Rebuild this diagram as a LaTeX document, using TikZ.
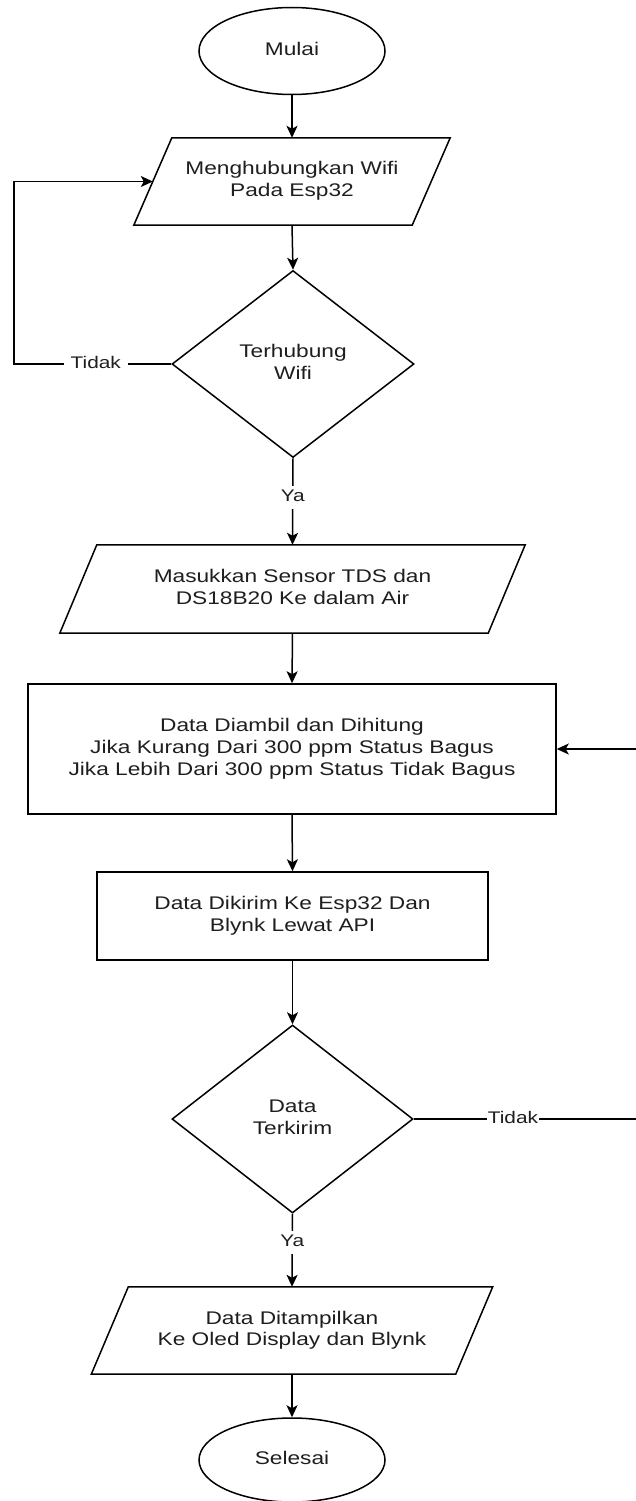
\documentclass[tikz,border=0pt]{standalone}
\usepackage{fontspec}
\usepackage{graphicx}
\setmainfont{Liberation Sans}
\usetikzlibrary{arrows.meta,shapes.geometric}
\definecolor{txtc}{HTML}{1E1E1E}
\newcommand{\hs}[1]{\scalebox{1.24}[1]{\begin{tabular}{@{}c@{}}#1\end{tabular}}}
\tikzset{
  shapeline/.style={draw=black, line width=1.5pt},
  txt/.style={font=\fontsize{18.3}{21.7}\selectfont, text=txtc, inner sep=0pt},
  term/.style={ellipse, shapeline, txt, minimum width=186pt, minimum height=87pt},
  proc/.style={rectangle, shapeline, txt},
  dec/.style={diamond, shapeline, txt, aspect=1.3},
  para/.style={rectangle, draw=none, txt},
  arr/.style={line width=1.5pt, -{Stealth[length=12pt, width=11pt, inset=3pt]}},
  lbl/.style={fill=white, text=txtc, inner sep=1.5pt, font=\fontsize{16.8}{20}\selectfont}
}
\begin{document}
\begin{tikzpicture}[x=1pt, y=-1pt]
\useasboundingbox (0,0) rectangle (636,1501);

\node[term] (mulai) at (292,51) {\hs{Mulai}};
\node[para, minimum width=278pt, minimum height=87pt] (p1) at (292,181.5) {\hs{Menghubungkan Wifi\\Pada Esp32}};
\node[dec, minimum width=242pt, minimum height=187pt] (d1) at (293,364) {\hs{Terhubung\\Wifi}};
\node[para, minimum width=428pt, minimum height=88pt] (p2) at (292.5,589) {\hs{Masukkan Sensor TDS dan\\DS18B20 Ke dalam Air}};
\node[proc, minimum width=528pt, minimum height=130pt] (r1) at (292,749) {\hs{Data Diambil dan Dihitung\\Jika Kurang Dari 300 ppm Status Bagus\\Jika Lebih Dari 300 ppm Status Tidak Bagus}};
\node[proc, minimum width=391pt, minimum height=88pt] (r2) at (292.5,916) {\hs{Data Dikirim Ke Esp32 Dan\\Blynk Lewat API}};
\node[dec, minimum width=241pt, minimum height=188pt] (d2) at (292.5,1119) {\hs{Data\\Terkirim}};
\node[para, minimum width=364pt, minimum height=87pt] (p3) at (292,1330.5) {\hs{Data Ditampilkan\\Ke Oled Display dan Blynk}};
\node[term, minimum height=84pt] (selesai) at (292,1460) {\hs{Selesai}};

% parallelogram outlines
\draw[shapeline] ([xshift=19pt]p1.north west) -- ([xshift=19pt]p1.north east) -- ([xshift=-19pt]p1.south east) -- ([xshift=-19pt]p1.south west) -- cycle;
\draw[shapeline] ([xshift=18.5pt]p2.north west) -- ([xshift=18.5pt]p2.north east) -- ([xshift=-18.5pt]p2.south east) -- ([xshift=-18.5pt]p2.south west) -- cycle;
\draw[shapeline] ([xshift=18.5pt]p3.north west) -- ([xshift=18.5pt]p3.north east) -- ([xshift=-18.5pt]p3.south east) -- ([xshift=-18.5pt]p3.south west) -- cycle;

\coordinate (c1) at (14,364);
\coordinate (c2) at (650,1119);

\draw[arr] (mulai.south) -- (p1.north);
\draw[arr] (p1.south) -- (d1.north);
\draw[arr] (d1.west) -- node[lbl, inner xsep=7pt, pos=0.48] {\hs{Tidak}} (c1) |- (p1.west);
\draw[arr] (d1.south) -- node[lbl, pos=0.45] {\hs{Ya}} (p2.north);
\draw[arr] (p2.south) -- (r1.north);
\draw[arr] (r1.south) -- (r2.north);
\draw[arr] (r2.south) -- (d2.north);
\draw[arr] (d2.east) -- node[lbl, inner xsep=0.5pt, pos=0.42] {\hs{Tidak}} (c2) |- (r1.east);
\draw[arr] (d2.south) -- node[lbl, pos=0.4] {\hs{Ya}} (p3.north);
\draw[arr] (p3.south) -- (selesai.north);
\end{tikzpicture}
\end{document}
